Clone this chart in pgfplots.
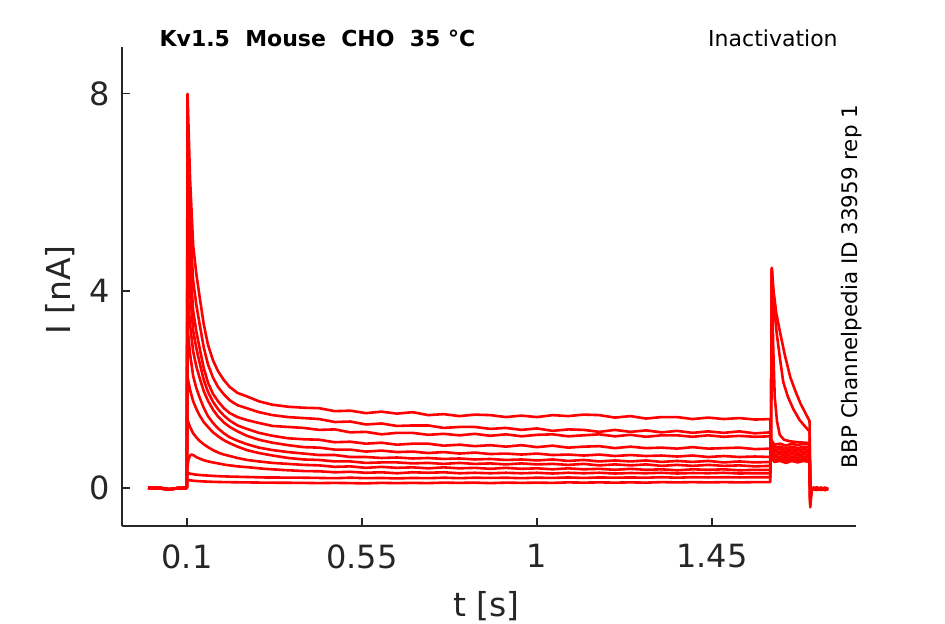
\documentclass[border=0pt]{standalone}
\usepackage{fontspec}
\setmainfont{DejaVu Sans}
\usepackage{pgfplots}
\pgfplotsset{compat=1.18}
\definecolor{axgray}{HTML}{262626}
\tikzset{tr/.style={color=red, line width=1.3pt, line join=round, mark=none}}
\begin{document}
\begin{tikzpicture}
\path[use as bounding box] (0,0) rectangle (472.5pt,312pt);
\begin{axis}[
 at={(61pt,49pt)}, anchor=south west, scale only axis, width=367pt, height=239.5pt,
 xmin=-0.067, xmax=1.82, ymin=-0.77, ymax=8.95,
 axis lines=left, axis line style={-, axgray, line width=0.6pt},
 xtick={0.1,0.55,1,1.45}, xticklabels={0.1,0.55,1,1.45},
 ytick={0,4,8},
 tick align=inside, major tick length=4pt, tick style={axgray, line width=0.6pt},
 /pgf/number format/assume math mode=true,
 ticklabel style={font=\fontsize{16}{19}\selectfont, text=axgray},
 xticklabel style={yshift=-5.7pt},
 yticklabel style={xshift=-2.7pt},
 xlabel={t [s]}, ylabel={I [nA]},
 label style={font=\fontsize{16.5}{20}\selectfont, text=axgray},
 xlabel style={at={(axis description cs:0.4966,-0.188)}, anchor=base},
 ylabel style={at={(axis description cs:-0.0695,0.4927)}, anchor=base},
 clip=false,
]
% trace 1
\addplot[tr] coordinates {(0,0.01)(0.015,-0.005)(0.03,0.0)(0.045,-0.02)(0.055,-0.03)(0.065,-0.01)(0.08,0.0)(0.0995,0.0)
(0.1015,8.0)(0.108,6.27)(0.116,4.92)(0.124,4.35)(0.132,3.91)(0.143,3.33)(0.154,2.91)(0.167,2.59)(0.18,2.37)(0.195,2.19)(0.21,2.05)(0.23,1.93)(0.254,1.86)(0.285,1.76)(0.32,1.69)(0.36,1.65)(0.4,1.63)
(0.44,1.62)(0.48,1.56)(0.52,1.57)(0.56,1.52)(0.60,1.55)(0.64,1.51)(0.68,1.54)(0.72,1.48)(0.76,1.50)(0.80,1.46)(0.84,1.49)(0.88,1.48)(0.92,1.44)(0.96,1.47)(1.00,1.44)(1.04,1.48)(1.08,1.46)(1.12,1.49)(1.16,1.48)(1.20,1.43)(1.24,1.46)(1.28,1.41)(1.32,1.44)(1.36,1.44)(1.40,1.40)(1.44,1.43)(1.48,1.40)(1.52,1.42)(1.56,1.39)(1.5995,1.40)
(1.6015,0.63)(1.61,0.53)(1.625,0.55)(1.64,0.51)(1.655,0.55)(1.67,0.52)(1.685,0.55)(1.7005,0.53)
(1.7025,-0.30)(1.705,-0.05)(1.71,0.01)(1.72,-0.03)(1.73,0.0)(1.74,-0.02)(1.748,-0.01)};
% trace 2
\addplot[tr] coordinates {(0,0.0)(0.015,0.01)(0.03,-0.01)(0.045,-0.02)(0.055,-0.03)(0.065,-0.02)(0.08,0.01)(0.0995,0.0)
(0.1015,6.80)(0.108,5.34)(0.116,4.20)(0.124,3.72)(0.132,3.35)(0.143,2.86)(0.154,2.51)(0.167,2.24)(0.18,2.05)(0.195,1.90)(0.21,1.78)(0.23,1.68)(0.254,1.62)(0.285,1.54)(0.32,1.48)(0.36,1.44)(0.4,1.42)
(0.44,1.40)(0.48,1.34)(0.52,1.35)(0.56,1.29)(0.60,1.31)(0.64,1.26)(0.68,1.27)(0.72,1.27)(0.76,1.22)(0.80,1.24)(0.84,1.24)(0.88,1.20)(0.92,1.22)(0.96,1.18)(1.00,1.21)(1.04,1.16)(1.08,1.19)(1.12,1.18)(1.16,1.14)(1.20,1.18)(1.24,1.14)(1.28,1.17)(1.32,1.13)(1.36,1.16)(1.40,1.12)(1.44,1.15)(1.48,1.12)(1.52,1.15)(1.56,1.11)(1.5995,1.13)
(1.6015,0.67)(1.61,0.57)(1.625,0.59)(1.64,0.55)(1.655,0.59)(1.67,0.56)(1.685,0.59)(1.7005,0.57)
(1.7025,-0.22)(1.705,-0.03)(1.71,-0.02)(1.72,0.01)(1.73,-0.03)(1.74,0.0)(1.748,-0.02)};
% trace 3
\addplot[tr] coordinates {(0,0.01)(0.015,0.0)(0.03,0.01)(0.045,-0.01)(0.055,-0.03)(0.065,-0.01)(0.08,-0.01)(0.0995,0.0)
(0.1015,5.80)(0.108,4.55)(0.116,3.59)(0.124,3.18)(0.132,2.86)(0.143,2.44)(0.154,2.14)(0.167,1.91)(0.18,1.76)(0.195,1.62)(0.21,1.52)(0.23,1.44)(0.254,1.38)(0.285,1.32)(0.32,1.26)(0.36,1.24)(0.4,1.22)
(0.44,1.18)(0.48,1.19)(0.52,1.13)(0.56,1.14)(0.60,1.09)(0.64,1.12)(0.68,1.12)(0.72,1.08)(0.76,1.10)(0.80,1.07)(0.84,1.10)(0.88,1.06)(0.92,1.09)(0.96,1.05)(1.00,1.08)(1.04,1.09)(1.08,1.05)(1.12,1.07)(1.16,1.09)(1.20,1.05)(1.24,1.08)(1.28,1.04)(1.32,1.07)(1.36,1.07)(1.40,1.04)(1.44,1.07)(1.48,1.04)(1.52,1.06)(1.56,1.04)(1.5995,1.05)
(1.6015,0.72)(1.61,0.62)(1.625,0.64)(1.64,0.60)(1.655,0.64)(1.67,0.61)(1.685,0.64)(1.7005,0.62)
(1.7025,-0.28)(1.705,-0.04)(1.71,0.0)(1.72,-0.02)(1.73,0.01)(1.74,-0.03)(1.748,-0.01)};
% trace 4
\addplot[tr] coordinates {(0,0.0)(0.015,-0.01)(0.03,0.0)(0.045,-0.02)(0.055,-0.02)(0.065,-0.01)(0.08,0.0)(0.0995,0.01)
(0.1015,4.90)(0.108,3.95)(0.116,3.19)(0.124,2.84)(0.132,2.56)(0.143,2.20)(0.154,1.95)(0.167,1.75)(0.18,1.60)(0.195,1.47)(0.21,1.37)(0.23,1.27)(0.254,1.20)(0.285,1.12)(0.32,1.06)(0.36,1.01)(0.4,0.99)
(0.44,0.98)(0.48,0.93)(0.52,0.94)(0.56,0.90)(0.60,0.92)(0.64,0.88)(0.68,0.90)(0.72,0.90)(0.76,0.86)(0.80,0.88)(0.84,0.85)(0.88,0.87)(0.92,0.84)(0.96,0.87)(1.00,0.83)(1.04,0.86)(1.08,0.82)(1.12,0.84)(1.16,0.85)(1.20,0.81)(1.24,0.84)(1.28,0.81)(1.32,0.82)(1.36,0.80)(1.40,0.83)(1.44,0.80)(1.48,0.81)(1.52,0.82)(1.56,0.79)(1.5995,0.80)
(1.6015,0.77)(1.61,0.67)(1.625,0.69)(1.64,0.65)(1.655,0.69)(1.67,0.66)(1.685,0.69)(1.7005,0.67)
(1.7025,-0.18)(1.705,-0.02)(1.71,-0.03)(1.72,0.0)(1.73,-0.02)(1.74,0.01)(1.748,-0.02)};
% trace 5
\addplot[tr] coordinates {(0,0.01)(0.015,0.0)(0.03,-0.01)(0.045,-0.02)(0.055,-0.03)(0.065,-0.02)(0.08,0.0)(0.0995,0.0)
(0.1015,4.00)(0.108,3.32)(0.116,2.77)(0.124,2.47)(0.132,2.25)(0.143,1.97)(0.154,1.77)(0.167,1.59)(0.18,1.45)(0.195,1.33)(0.21,1.24)(0.23,1.15)(0.254,1.06)(0.285,0.98)(0.32,0.92)(0.36,0.87)(0.4,0.83)
(0.44,0.82)(0.48,0.78)(0.52,0.78)(0.56,0.74)(0.60,0.76)(0.64,0.73)(0.68,0.74)(0.72,0.71)(0.76,0.73)(0.80,0.70)(0.84,0.72)(0.88,0.69)(0.92,0.70)(0.96,0.68)(1.00,0.70)(1.04,0.67)(1.08,0.68)(1.12,0.66)(1.16,0.68)(1.20,0.65)(1.24,0.67)(1.28,0.65)(1.32,0.66)(1.36,0.64)(1.40,0.66)(1.44,0.63)(1.48,0.65)(1.52,0.63)(1.56,0.64)(1.5995,0.63)
(1.6015,0.82)(1.61,0.72)(1.625,0.74)(1.64,0.70)(1.655,0.74)(1.67,0.71)(1.685,0.74)(1.7005,0.72)
(1.7025,-0.32)(1.705,-0.06)(1.71,0.01)(1.72,-0.02)(1.73,-0.04)(1.74,-0.01)(1.748,-0.02)};
% trace 6
\addplot[tr] coordinates {(0,0.0)(0.015,0.0)(0.03,0.01)(0.045,-0.02)(0.055,-0.03)(0.065,-0.01)(0.08,0.01)(0.0995,0.0)
(0.1015,3.27)(0.108,2.72)(0.116,2.27)(0.124,2.03)(0.132,1.85)(0.143,1.63)(0.154,1.46)(0.167,1.32)(0.18,1.21)(0.195,1.11)(0.21,1.03)(0.23,0.96)(0.254,0.89)(0.285,0.82)(0.32,0.77)(0.36,0.73)(0.4,0.70)
(0.44,0.67)(0.48,0.67)(0.52,0.63)(0.56,0.63)(0.60,0.61)(0.64,0.62)(0.68,0.60)(0.72,0.61)(0.76,0.59)(0.80,0.60)(0.84,0.58)(0.88,0.59)(0.92,0.57)(0.96,0.58)(1.00,0.56)(1.04,0.58)(1.08,0.55)(1.12,0.57)(1.16,0.54)(1.20,0.56)(1.24,0.54)(1.28,0.56)(1.32,0.53)(1.36,0.55)(1.40,0.53)(1.44,0.55)(1.48,0.52)(1.52,0.54)(1.56,0.52)(1.5995,0.53)
(1.6015,0.87)(1.61,0.77)(1.625,0.79)(1.64,0.75)(1.655,0.79)(1.67,0.76)(1.685,0.79)(1.7005,0.77)
(1.7025,-0.24)(1.705,-0.03)(1.71,-0.01)(1.72,-0.04)(1.73,0.0)(1.74,-0.02)(1.748,0.0)};
% trace 7
\addplot[tr] coordinates {(0,0.01)(0.015,-0.01)(0.03,0.0)(0.045,-0.01)(0.055,-0.03)(0.065,-0.02)(0.08,0.0)(0.0995,0.01)
(0.1015,2.25)(0.108,1.99)(0.116,1.76)(0.124,1.61)(0.132,1.48)(0.143,1.34)(0.154,1.24)(0.167,1.13)(0.18,1.05)(0.195,0.97)(0.21,0.91)(0.23,0.84)(0.254,0.77)(0.285,0.71)(0.32,0.66)(0.36,0.61)(0.4,0.58)
(0.44,0.57)(0.48,0.54)(0.52,0.54)(0.56,0.51)(0.60,0.52)(0.64,0.52)(0.68,0.50)(0.72,0.51)(0.76,0.49)(0.80,0.51)(0.84,0.49)(0.88,0.50)(0.92,0.48)(0.96,0.50)(1.00,0.48)(1.04,0.49)(1.08,0.47)(1.12,0.49)(1.16,0.46)(1.20,0.48)(1.24,0.46)(1.28,0.48)(1.32,0.45)(1.36,0.47)(1.40,0.45)(1.44,0.47)(1.48,0.45)(1.52,0.46)(1.56,0.44)(1.5995,0.45)
(1.6015,0.92)(1.61,0.82)(1.625,0.84)(1.64,0.80)(1.655,0.84)(1.67,0.81)(1.685,0.84)(1.7005,0.82)
(1.7025,-0.35)(1.705,-0.05)(1.71,0.0)(1.72,-0.03)(1.73,-0.01)(1.74,-0.04)(1.748,-0.02)};
% trace 8
\addplot[tr] coordinates {(0,0.0)(0.015,0.01)(0.03,-0.01)(0.045,-0.02)(0.055,-0.02)(0.065,-0.01)(0.08,-0.01)(0.0995,0.0)
(0.1015,1.38)(0.108,1.24)(0.116,1.11)(0.124,1.03)(0.132,0.96)(0.143,0.89)(0.154,0.83)(0.167,0.77)(0.18,0.72)(0.195,0.68)(0.21,0.65)(0.23,0.61)(0.254,0.57)(0.285,0.54)(0.32,0.51)(0.36,0.49)(0.4,0.47)
(0.44,0.46)(0.48,0.43)(0.52,0.44)(0.56,0.41)(0.60,0.43)(0.64,0.41)(0.68,0.42)(0.72,0.40)(0.76,0.42)(0.80,0.40)(0.84,0.41)(0.88,0.39)(0.92,0.41)(0.96,0.39)(1.00,0.40)(1.04,0.38)(1.08,0.40)(1.12,0.38)(1.16,0.39)(1.20,0.37)(1.24,0.39)(1.28,0.37)(1.32,0.38)(1.36,0.36)(1.40,0.38)(1.44,0.37)(1.48,0.38)(1.52,0.36)(1.56,0.37)(1.5995,0.37)
(1.6015,0.98)(1.61,0.88)(1.625,0.90)(1.64,0.86)(1.655,0.90)(1.67,0.87)(1.685,0.90)(1.7005,0.88)
(1.7025,-0.20)(1.705,-0.02)(1.71,-0.02)(1.72,0.01)(1.73,-0.03)(1.74,-0.01)(1.748,-0.02)};
% trace 9
\addplot[tr] coordinates {(0,0.01)(0.015,0.0)(0.03,0.0)(0.045,-0.02)(0.055,-0.03)(0.065,-0.01)(0.08,0.0)(0.0995,0.0)
(0.1005,0.40)(0.104,0.58)(0.108,0.66)(0.112,0.68)(0.118,0.66)(0.126,0.62)(0.135,0.59)(0.145,0.56)(0.16,0.53)(0.18,0.50)(0.2,0.47)(0.23,0.44)(0.26,0.42)(0.3,0.39)(0.35,0.365)(0.4,0.345)
(0.44,0.34)(0.48,0.32)(0.52,0.33)(0.56,0.31)(0.60,0.32)(0.64,0.30)(0.68,0.32)(0.72,0.31)(0.76,0.32)(0.80,0.30)(0.84,0.31)(0.88,0.30)(0.92,0.31)(0.96,0.30)(1.00,0.31)(1.04,0.295)(1.08,0.31)(1.12,0.30)(1.16,0.31)(1.20,0.295)(1.24,0.305)(1.28,0.30)(1.32,0.31)(1.36,0.295)(1.40,0.305)(1.44,0.30)(1.48,0.31)(1.52,0.295)(1.56,0.30)(1.5995,0.30)
(1.6015,1.0)(1.6035,4.4)(1.607,2.9)(1.611,1.85)(1.617,1.35)(1.624,1.08)(1.635,0.98)(1.65,0.95)(1.67,0.93)(1.69,0.92)(1.7005,0.91)
(1.7025,-0.39)(1.705,-0.06)(1.71,0.0)(1.72,-0.04)(1.73,-0.01)(1.74,-0.03)(1.748,-0.02)};
% trace 10
\addplot[tr] coordinates {(0,0.0)(0.015,-0.01)(0.03,0.0)(0.045,-0.01)(0.055,-0.03)(0.065,-0.02)(0.08,0.0)(0.0995,0.0)
(0.1005,0.26)(0.104,0.30)(0.11,0.29)(0.12,0.275)(0.14,0.26)(0.17,0.245)(0.2,0.235)(0.25,0.225)(0.3,0.215)(0.4,0.21)
(0.44,0.205)(0.48,0.20)(0.52,0.21)(0.56,0.20)(0.60,0.205)(0.64,0.195)(0.68,0.205)(0.72,0.20)(0.76,0.21)(0.80,0.20)(0.84,0.21)(0.88,0.205)(0.92,0.21)(0.96,0.20)(1.00,0.21)(1.04,0.205)(1.08,0.215)(1.12,0.205)(1.16,0.215)(1.20,0.21)(1.24,0.215)(1.28,0.21)(1.32,0.22)(1.36,0.21)(1.40,0.22)(1.44,0.215)(1.48,0.22)(1.52,0.215)(1.56,0.22)(1.5995,0.22)
(1.6015,1.0)(1.6035,4.45)(1.608,3.8)(1.616,3.15)(1.625,2.6)(1.633,2.15)(1.645,1.85)(1.659,1.6)(1.675,1.38)(1.69,1.24)(1.7005,1.15)
(1.7025,-0.25)(1.705,-0.03)(1.71,-0.01)(1.72,0.01)(1.73,-0.03)(1.74,0.0)(1.748,-0.01)};
% trace 11
\addplot[tr] coordinates {(0,0.01)(0.015,0.0)(0.03,-0.01)(0.045,-0.02)(0.055,-0.02)(0.065,-0.01)(0.08,0.0)(0.0995,0.0)
(0.1005,0.13)(0.104,0.16)(0.11,0.155)(0.12,0.145)(0.14,0.135)(0.17,0.125)(0.2,0.12)(0.3,0.11)(0.4,0.105)
(0.44,0.10)(0.48,0.105)(0.52,0.10)(0.56,0.095)(0.60,0.105)(0.64,0.10)(0.68,0.105)(0.72,0.10)(0.76,0.11)(0.80,0.105)(0.84,0.11)(0.88,0.10)(0.92,0.11)(0.96,0.105)(1.00,0.11)(1.04,0.105)(1.08,0.115)(1.12,0.11)(1.16,0.115)(1.20,0.11)(1.24,0.115)(1.28,0.11)(1.32,0.12)(1.36,0.115)(1.40,0.12)(1.44,0.115)(1.48,0.12)(1.52,0.115)(1.56,0.12)(1.5995,0.12)
(1.6015,1.0)(1.6035,4.47)(1.608,4.0)(1.615,3.55)(1.625,3.15)(1.637,2.7)(1.651,2.25)(1.664,1.97)(1.677,1.72)(1.69,1.52)(1.7005,1.36)
(1.7025,-0.2)(1.705,-0.02)(1.71,-0.03)(1.72,0.0)(1.73,-0.02)(1.74,-0.04)(1.748,-0.02)};
\node[anchor=base, inner sep=0pt, font=\bfseries\fontsize{11}{13}\selectfont, text=black] at (axis description cs:0.2663,1.0006) {Kv1.5\ \ Mouse\ \ CHO\ \ 35\ °C};
\node[anchor=base east, inner sep=0pt, font=\fontsize{11}{13}\selectfont, text=black] at (axis description cs:0.9755,1.0006) {Inactivation};
\node[anchor=base, inner sep=0pt, rotate=90, font=\fontsize{10.7}{13}\selectfont, text=black] at (axis description cs:1.0014,0.5) {BBP Channelpedia ID 33959 rep 1};
\end{axis}
\end{tikzpicture}
\end{document}
